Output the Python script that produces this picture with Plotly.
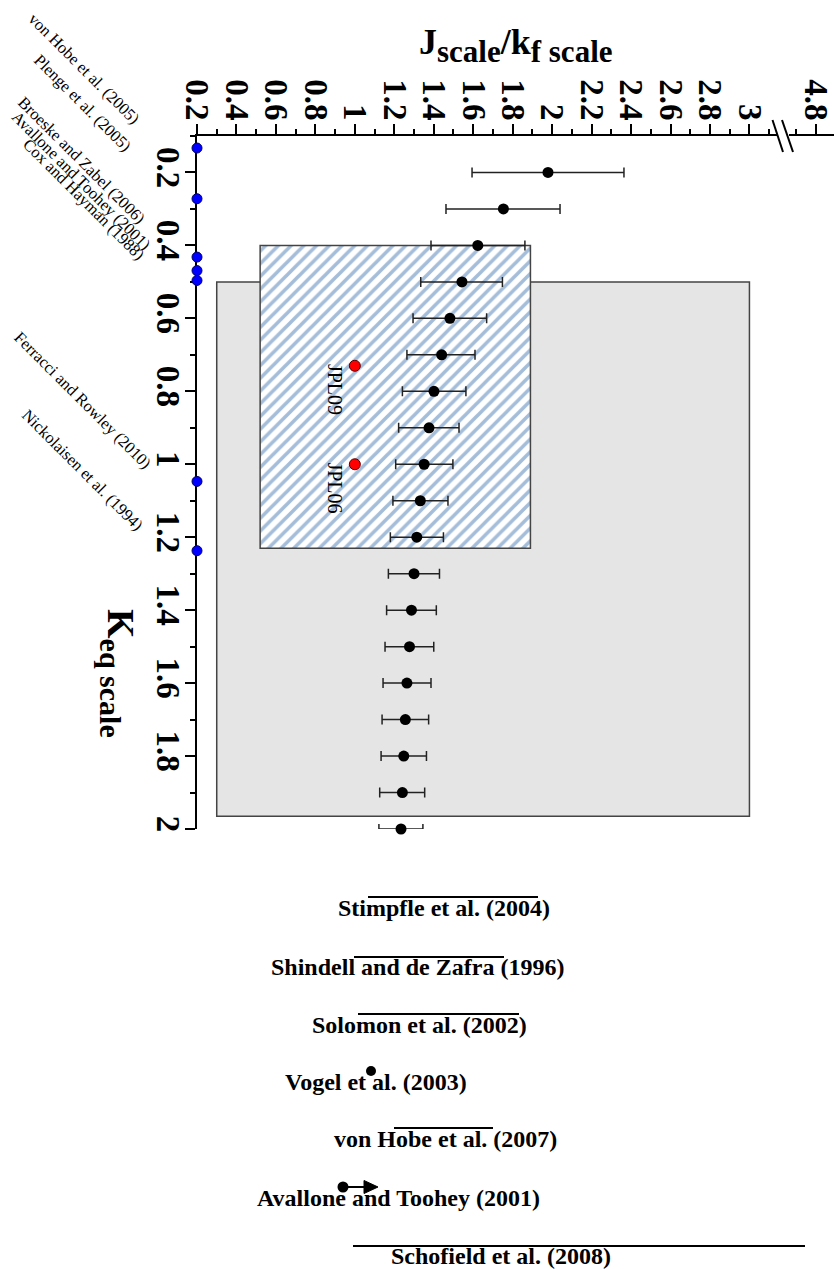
import plotly.graph_objects as go

# ---- data -------------------------------------------------------------
# K_eq scale factor (vertical axis) and the resulting J/k_f scale (top axis)
k_eq = [0.2, 0.3, 0.4, 0.5, 0.6, 0.7, 0.8, 0.9, 1.0, 1.1,
        1.2, 1.3, 1.4, 1.5, 1.6, 1.7, 1.8, 1.9, 2.0]
j_scale = [1.979, 1.753, 1.623, 1.543, 1.482, 1.440, 1.401, 1.376, 1.351, 1.332,
           1.314, 1.300, 1.287, 1.277, 1.264, 1.256, 1.248, 1.241, 1.234]
j_low = [1.594, 1.462, 1.386, 1.334, 1.295, 1.264, 1.241, 1.222, 1.207, 1.193,
         1.180, 1.170, 1.161, 1.153, 1.143, 1.138, 1.133, 1.126, 1.122]
j_high = [2.364, 2.040, 1.862, 1.748, 1.668, 1.609, 1.563, 1.528, 1.497, 1.472,
          1.449, 1.429, 1.413, 1.400, 1.386, 1.374, 1.363, 1.354, 1.345]

# laboratory K_eq determinations (placed on the K_eq axis)
lab_studies = ["von Hobe et al. (2005)", "Plenge et al. (2005)",
               "Broeske and Zabel (2006)", "Avallone and Toohey (2001)",
               "Cox and Hayman (1988)", "Ferracci and Rowley (2010)",
               "Nickolaisen et al. (1994)"]
lab_keq = [0.133, 0.272, 0.432, 0.469, 0.496, 1.047, 1.237]

# JPL recommendations
jpl_names = ["JPL09", "JPL06"]
jpl_j = [1.0, 1.0]
jpl_keq = [0.73, 1.0]

# ranges allowed by the atmospheric observations
grey_j = [0.3, 3.0]
grey_keq = [0.5, 1.965]
hatch_j = [0.52, 1.89]
hatch_keq = [0.4, 1.23]

# top-axis ticks (axis is broken between 3 and 4.8)
x_major_vals = [0.2, 0.4, 0.6, 0.8, 1.0, 1.2, 1.4, 1.6, 1.8, 2.0,
                2.2, 2.4, 2.6, 2.8, 3.0, 3.336]
x_major_text = ["0.2", "0.4", "0.6", "0.8", "1", "1.2", "1.4", "1.6", "1.8", "2",
                "2.2", "2.4", "2.6", "2.8", "3", "4.8"]
x_minor_vals = [0.3, 0.5, 0.7, 0.9, 1.1, 1.3, 1.5, 1.7, 1.9, 2.1,
                2.3, 2.5, 2.7, 2.9, 3.1, 3.234]
y_major_vals = [0.2, 0.4, 0.6, 0.8, 1.0, 1.2, 1.4, 1.6, 1.8, 2.0]
y_major_text = ["0.2", "0.4", "0.6", "0.8", "1", "1.2", "1.4", "1.6", "1.8", "2"]
y_minor_vals = [0.1, 0.3, 0.5, 0.7, 0.9, 1.1, 1.3, 1.5, 1.7, 1.9]

legend_names = ["Stimpfle et al. (2004)", "Shindell and de Zafra (1996)",
                "Solomon et al. (2002)", "Vogel et al. (2003)",
                "von Hobe et al. (2007)", "Avallone and Toohey (2001)",
                "Schofield et al. (2008)"]

# ---- layout geometry --------------------------------------------------
W, H = 834, 1269
ML, MT, MR, MB = 197, 136, 0, 440
SERIF = "Liberation Serif, Times New Roman, serif"


def px_x(p):
    return (p - ML) / (W - ML - MR)


def px_y(p):
    return (H - MB - p) / (H - MT - MB)


def note(cx, cy, text, size, bold=False, angle=0):
    """Text centred on a pixel position of the page."""
    fig.add_annotation(xref="paper", yref="paper", x=px_x(cx), y=px_y(cy),
                       xanchor="center", yanchor="middle",
                       text=("<b>" + text + "</b>") if bold else text,
                       showarrow=False, textangle=angle,
                       font=dict(family=SERIF, size=size, color="black"))


fig = go.Figure()

# hatched box
fig.add_trace(go.Bar(
    orientation="h",
    y=[(hatch_keq[0] + hatch_keq[1]) / 2],
    x=[hatch_j[1] - hatch_j[0]],
    base=[hatch_j[0]],
    width=[hatch_keq[1] - hatch_keq[0]],
    marker=dict(color="white",
                line=dict(color="#444444", width=1.5),
                pattern=dict(shape="/", fgcolor="#4a7bb4", bgcolor="white",
                             size=9, solidity=0.4)),
    showlegend=False, hoverinfo="skip",
))

# J/k_f scale with uncertainty
fig.add_trace(go.Scatter(
    x=j_scale, y=k_eq, mode="markers",
    marker=dict(color="black", size=11),
    error_x=dict(type="data", symmetric=False,
                 array=[h - c for h, c in zip(j_high, j_scale)],
                 arrayminus=[c - l for c, l in zip(j_scale, j_low)],
                 color="#222222", thickness=1.5, width=5),
    cliponaxis=False, showlegend=False,
))

# JPL points and labels
fig.add_trace(go.Scatter(
    x=jpl_j, y=jpl_keq, mode="markers",
    marker=dict(color="#ff0000", size=11, line=dict(color="#550000", width=1)),
    showlegend=False,
))
for name, xv, yv in zip(jpl_names, jpl_j, jpl_keq):
    fig.add_annotation(x=xv, y=yv, text=name, showarrow=False,
                       textangle=90, xshift=-20, yshift=-24,
                       xanchor="center", yanchor="middle",
                       font=dict(family=SERIF, size=20, color="black"))

# laboratory points on the K_eq axis
fig.add_trace(go.Scatter(
    x=[0.2] * len(lab_keq), y=lab_keq, mode="markers",
    marker=dict(color="#0000ff", size=10, line=dict(color="#000060", width=1)),
    cliponaxis=False, showlegend=False,
))
lab_label_offsets = [(-113, 80), (-115, 96), (-115, 97), (-116, 90),
                     (-113, 81), (-114, 81), (-115, 81)]
for name, yv, (dx, dy) in zip(lab_studies, lab_keq, lab_label_offsets):
    fig.add_annotation(x=0.2, y=yv, text=name, showarrow=False,
                       textangle=45, xshift=dx, yshift=dy,
                       xanchor="center", yanchor="middle",
                       font=dict(family=SERIF, size=16.5, color="black"))

# grey box (below everything)
fig.add_shape(type="rect", layer="below",
              x0=grey_j[0], x1=grey_j[1], y0=grey_keq[0], y1=grey_keq[1],
              xref="x", yref="y",
              fillcolor="#e5e5e5", line=dict(color="#444444", width=1.5))

# axis break marks
fig.add_shape(type="rect", xref="paper", yref="paper", layer="above",
              x0=px_x(777), x1=px_x(789), y0=px_y(139), y1=px_y(133),
              fillcolor="white", line=dict(width=0))
for x0, x1 in [(772.5, 783), (782, 793)]:
    fig.add_shape(type="line", xref="paper", yref="paper", layer="above",
                  x0=px_x(x0), x1=px_x(x1), y0=px_y(120), y1=px_y(152),
                  line=dict(color="black", width=2))

# axis titles
note(516, 45, "J<sub><span style='font-size:31px'>scale</span></sub>/k"
              "<sub><span style='font-size:31px'>f scale</span></sub>",
     36, bold=True)
note(118, 673, "K<sub><span style='font-size:30px'>eq scale</span></sub>",
     38, bold=True, angle=90)

# key below the plot
legend_centers = [(444, 908), (417, 967), (419, 1025), (376, 1082),
                  (445, 1139), (398, 1198), (501, 1256)]
for name, (cx, cy) in zip(legend_names, legend_centers):
    note(cx, cy, name, 24, bold=True)

legend_lines = [(368, 538, 897), (354, 504, 957), (358, 519, 1014),
                (394, 493, 1128), (353, 805, 1246)]
for x0, x1, yy in legend_lines:
    fig.add_shape(type="line", xref="paper", yref="paper",
                  x0=px_x(x0), x1=px_x(x1), y0=px_y(yy), y1=px_y(yy),
                  line=dict(color="black", width=2))

for cx, cy, d in [(371, 1071, 10), (343, 1187, 11)]:
    fig.add_shape(type="circle", xref="paper", yref="paper",
                  x0=px_x(cx - d / 2), x1=px_x(cx + d / 2),
                  y0=px_y(cy + d / 2), y1=px_y(cy - d / 2),
                  fillcolor="black", line=dict(width=0))
fig.add_shape(type="line", xref="paper", yref="paper",
              x0=px_x(343), x1=px_x(366), y0=px_y(1187), y1=px_y(1187),
              line=dict(color="black", width=2))
fig.add_shape(type="path", xref="paper", yref="paper",
              path=f"M {px_x(364)},{px_y(1180.5)} L {px_x(378)},{px_y(1187)} "
                   f"L {px_x(364)},{px_y(1193.5)} Z",
              fillcolor="black", line=dict(color="black", width=1))

# ---- axes ---------------------------------------------------------------
fig.update_layout(
    width=W, height=H,
    margin=dict(l=ML, r=MR, t=MT, b=MB, pad=0),
    paper_bgcolor="white", plot_bgcolor="white",
    barmode="overlay",
    showlegend=False,
    xaxis=dict(
        side="top", range=[0.2, 0.2 + (W - ML - MR) / 197.3],
        showgrid=False, zeroline=False,
        showline=True, linecolor="black", linewidth=2,
        ticks="outside", ticklen=10, tickwidth=2, tickcolor="black",
        tickmode="array", tickvals=x_major_vals,
        ticktext=["<b>" + t + "</b>" for t in x_major_text],
        tickangle=90, tickfont=dict(family=SERIF, size=33, color="black"),
        ticklabeloverflow="allow", ticklabelstandoff=-8,
        minor=dict(ticks="outside", ticklen=5, tickwidth=2, tickcolor="black",
                   tickmode="array", tickvals=x_minor_vals),
        layer="below traces", automargin=False, fixedrange=True,
    ),
    yaxis=dict(
        range=[2.0, 0.1],
        showgrid=False, zeroline=False,
        showline=True, linecolor="black", linewidth=2,
        ticks="outside", ticklen=10, tickwidth=2, tickcolor="black",
        tickmode="array", tickvals=y_major_vals,
        ticktext=["<b>" + t + "</b>" for t in y_major_text],
        tickangle=90, tickfont=dict(family=SERIF, size=33, color="black"),
        ticklabeloverflow="allow", ticklabelstandoff=-12,
        minor=dict(ticks="outside", ticklen=5, tickwidth=2, tickcolor="black",
                   tickmode="array", tickvals=y_minor_vals),
        layer="below traces", automargin=False, fixedrange=True,
    ),
)

fig.write_html("out.html")
